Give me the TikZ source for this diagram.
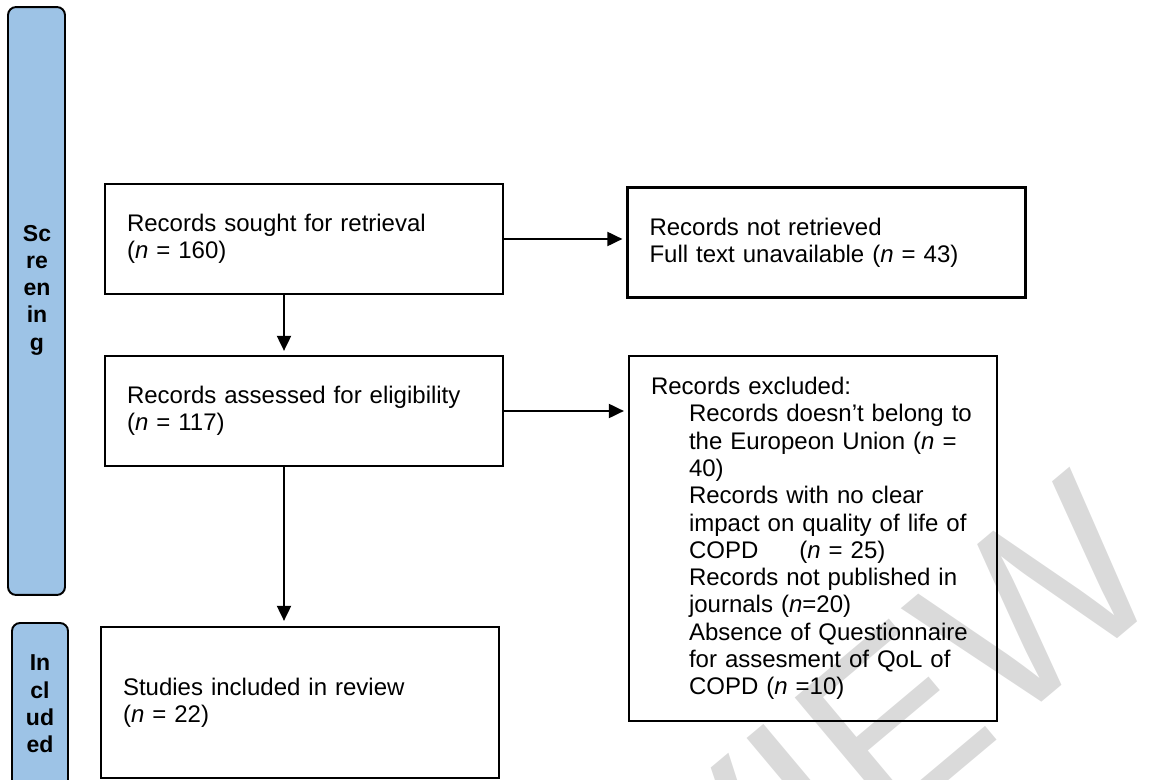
\documentclass[tikz,border=0pt]{standalone}
\usepackage{fontspec}
\setmainfont{Liberation Sans}
\usetikzlibrary{arrows.meta}
\definecolor{phaseblue}{RGB}{157,195,230}
\definecolor{markgray}{RGB}{218,218,218}
\tikzset{flowbox/.style={draw, line width=1.3pt, minimum width=7.96cm, minimum height=2.2cm, text width=7.08cm, inner xsep=0.44cm, align=left, font=\fontsize{13.66}{15.53}\selectfont}}
\tikzset{phasebar/.style={draw, line width=1.1pt, fill=phaseblue, rounded corners=0.16cm}}
\tikzset{phaselabel/.style={align=center, inner sep=0pt, font=\bfseries\fontsize{13.1}{15.53}\selectfont}}
\tikzset{flowarrow/.style={line width=1.1pt, -{Triangle[length=0.3cm,width=0.28cm]}, shorten >=0.08cm}}
\tikzset{watermark/.style={text=markgray, inner sep=0pt, font=\fontsize{134}{134}\selectfont}}

\begin{document}
\begin{tikzpicture}[x=0.02cm, y=-0.02cm]
	\useasboundingbox (0,0) rectangle (1149,780);
	\clip (0,0) rectangle (1149,780);

	% Watermark
	\node[watermark, rotate=40, anchor=base east] (wmark) at (1175,590) {PREVIEW};

	% Phase bars
	\node[phasebar, minimum width=1.14cm, minimum height=11.76cm] (screenbar) at (36.5,301) {};
	\node[phaselabel] (screenlabel) at (37,290) {Sc\\re\\en\\in\\g};
	\node[phasebar, minimum width=1.12cm, minimum height=3.54cm] (inclbar) at (40,711.5) {};
	\node[phaselabel] (incllabel) at (40,704) {In\\cl\\ud\\ed};

	% Left column
	\node[flowbox] (sought) at (304,239) {Records sought for retrieval\\(\textit{n} = 160)};
	\node[flowbox] (assessed) at (304,411) {Records assessed for eligibility\\(\textit{n} = 117)};
	\node[flowbox, minimum height=3.02cm] (included) at (300,702.5) {Studies included in review\\(\textit{n} = 22)};

	% Right column
	\node[flowbox] (notretrieved) at (826.5,242.5) {Records not retrieved\\Full text unavailable (\textit{n} = 43)};
	\node[flowbox, minimum width=7.36cm, text width=6.48cm, minimum height=7.3cm] (excluded) at (813,538.5) {Records excluded:\\
		\hspace*{0.76cm}Records doesn’t belong to\\
		\hspace*{0.76cm}the Europeon Union (\textit{n} =\\
		\hspace*{0.76cm}40)\\
		\hspace*{0.76cm}Records with no clear\\
		\hspace*{0.76cm}impact on quality of life of\\
		\hspace*{0.76cm}COPD\hspace*{0.82cm}(\textit{n} = 25)\\
		\hspace*{0.76cm}Records not published in\\
		\hspace*{0.76cm}journals (\textit{n}=20)\\
		\hspace*{0.76cm}Absence of Questionnaire\\
		\hspace*{0.76cm}for assesment of QoL of\\
		\hspace*{0.76cm}COPD (\textit{n} =10)};

	% Arrows
	\coordinate (spine) at (284,0);
	\draw[flowarrow] (sought.east) -- (sought.east -| notretrieved.west);
	\draw[flowarrow] (sought.south -| spine) -- (assessed.north -| spine);
	\draw[flowarrow] (assessed.east) -- (assessed.east -| excluded.west);
	\draw[flowarrow, shorten >=0.1cm] (assessed.south -| spine) -- (included.north -| spine);

\end{tikzpicture}
\end{document}
